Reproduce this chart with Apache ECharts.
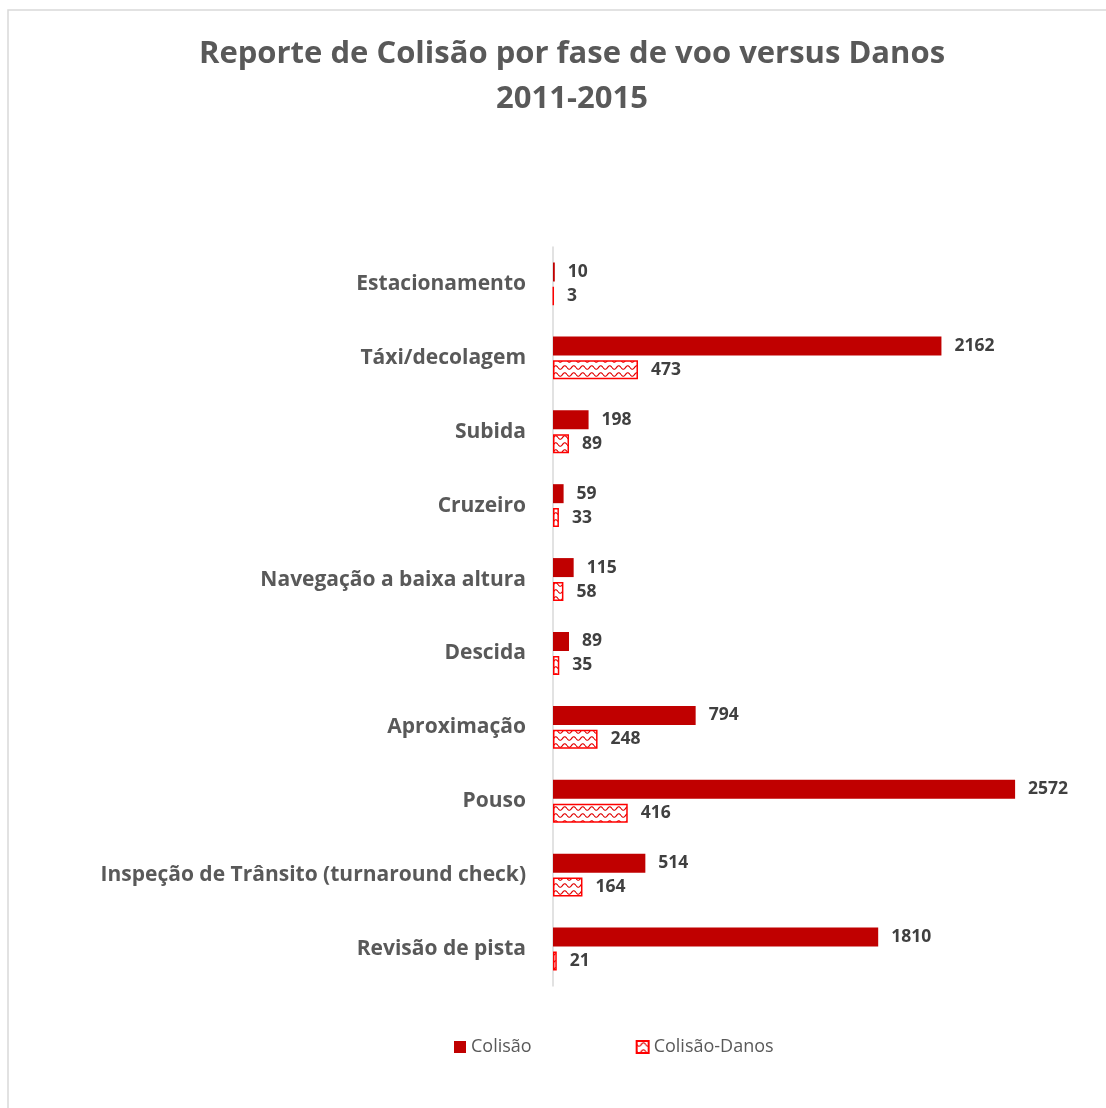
<!DOCTYPE html>
<html><head><meta charset="utf-8">
<script src="https://cdn.jsdelivr.net/npm/echarts@6/dist/echarts.min.js"></script>
<style>html,body{margin:0;padding:0;background:#fff}#c{width:1106px;height:1108px}</style>
</head><body><div id="c"></div>
<script>
const categories = ["Estacionamento","Táxi/decolagem","Subida","Cruzeiro","Navegação a baixa altura","Descida","Aproximação","Pouso","Inspeção de Trânsito (turnaround check)","Revisão de pista"];
const colisao = [10,2162,198,59,115,89,794,2572,514,1810];
const colisaoDanos = [3,473,89,33,58,35,248,416,164,21];
const seriesNames = ["Colisão","Colisão-Danos"];

function wavePattern(){
  const c = document.createElement('canvas');
  c.width = 9; c.height = 7;
  const g = c.getContext('2d');
  g.fillStyle = '#fff'; g.fillRect(0,0,9,7);
  g.strokeStyle = '#e00000'; g.lineWidth = 1.2;
  g.beginPath();
  for (let x = 0; x <= 9; x += 0.5) {
    const y = 3.5 + 1.8 * Math.sin(x / 9 * Math.PI * 2);
    if (x === 0) g.moveTo(x, y); else g.lineTo(x, y);
  }
  g.stroke();
  return c;
}
const pat = {image: wavePattern(), repeat: 'repeat'};
const font = '"Open Sans", sans-serif';
const chart = echarts.init(document.getElementById('c'), null, {renderer:'canvas'});
chart.setOption({
  animation:false,
  textStyle:{fontFamily:font},
  graphic:[{type:'rect',shape:{x:8,y:10,width:1120,height:1120},style:{fill:'none',stroke:'#d9d9d9',lineWidth:1.5},silent:true}],
  title:{text:'Reporte de Colisão por fase de voo versus Danos\n2011-2015',left:567,top:27,textAlign:'center',
    textStyle:{fontSize:31,fontWeight:'bold',color:'#595959',fontFamily:font,lineHeight:45}},
  legend:{bottom:47,left:449,itemGap:104,itemWidth:12,itemHeight:12,icon:'rect',
    textStyle:{fontSize:18,color:'#595959',fontFamily:font},
    data:[{name:seriesNames[0]},{name:seriesNames[1]}]},
  grid:{left:553,right:14,top:247,bottom:122,containLabel:false},
  xAxis:{type:'value',min:0,max:3000,show:false},
  yAxis:{type:'category',data:categories,inverse:true,
    axisLine:{lineStyle:{color:'#d9d9d9',width:1.5}},axisTick:{show:false},
    axisLabel:{margin:27,fontSize:21,fontWeight:'bold',color:'#595959',fontFamily:font}},
  series:[
    {name:seriesNames[0],type:'bar',data:colisao,barWidth:19,barGap:'26%',
      itemStyle:{color:'#C00000'},
      label:{show:true,position:'right',distance:13,fontSize:17.5,fontWeight:'bold',color:'#404040',fontFamily:font}},
    {name:seriesNames[1],type:'bar',data:colisaoDanos,barWidth:19,
      itemStyle:{color:pat,borderColor:'#FF0000',borderWidth:1.5},
      label:{show:true,position:'right',distance:13,fontSize:17.5,fontWeight:'bold',color:'#404040',fontFamily:font}}
  ]
});
</script></body></html>
